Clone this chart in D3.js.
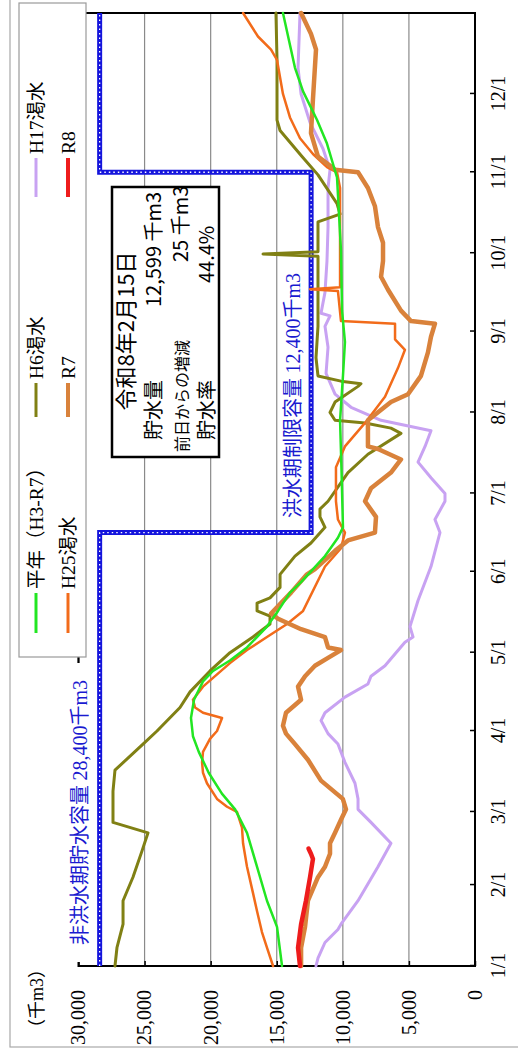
<!DOCTYPE html>
<html><head><meta charset="utf-8">
<script src="https://cdn.jsdelivr.net/npm/d3@7"></script>
<style>html,body{margin:0;padding:0;background:#fff;} svg{display:block}</style>
</head><body>
<svg id="c" width="518" height="1057"></svg>
<script>
// ---- tick data ----
const monthStarts = [0,31,59,90,120,151,181,212,243,273,304,334];
const monthLabels = ["1/1","2/1","3/1","4/1","5/1","6/1","7/1","8/1","9/1","10/1","11/1","12/1"];
const valueTicks = [0,5000,10000,15000,20000,25000,30000];

// ---- flood control capacity line ----
const floodDays = [0,166,166,304,304,365];
const floodVals = [28400,28400,12400,12400,28400,28400];

// ---- series (day of year, storage in 千m3) ----
const heinenDays = [0,15,25,38,51,60,66,74,82,88,95,102,109,113,117,122,130,136,143,147,157,164,168,190,209,226,239,251,274,302,315,324,335,344,365];
const heinenVals = [14600,14980,15740,16490,17250,18150,19150,20150,20900,21340,21490,21260,20580,19820,18540,17250,15740,14900,14000,13160,11350,10370,9990,10100,10210,9990,9840,10060,10140,10440,11200,11950,13010,13620,14530];

const h6Days = [0,7,16,25,34,44,51,55,67,75,85,90,99,105,113,120,126,131,134,136,139,141,145,150,157,162,168,172,175,178,189,196,204,206,208,209,212,216,222,223,224,226,233,245,258,271.8,272.7,273.6,285,288,292,303,310,320,324,347,365];
const h6Vals = [27240,27090,26630,26630,25880,25200,24740,27390,27390,27240,25120,24060,22320,21560,20050,18540,16800,15510,15510,16490,16490,15510,14750,14750,13620,12410,11350,11730,11730,11120,9610,8100,5600,6360,8320,10590,10970,10590,8850,8630,10140,11880,12030,11880,11880,11880,16040,11880,11880,10210,10440,11880,13090,14750,14980,14980,15060];

const h17Days = [0,3,9,14,16,25,38,47,55,60,64,70,78,85,89,94,97,103,108,111,115,124,126,130,140,153,166,171,178,181,187,193,199,205,209,214,219,227,237,245,249,250,258,270,283,298,305,313,323,334,344,365];
const h17Vals = [12030,11880,11350,10370,10140,8850,7340,6360,7870,8850,8850,9080,9840,10370,11120,11650,11350,9840,8100,7870,6810,5300,4690,4920,4310,3330,2650,3030,2270,2270,3330,4310,3780,3330,7110,9380,10590,11270,11120,11350,10970,11650,11350,11200,11120,11120,10970,11500,12480,13160,13390,13240];

const h25Days = [0,7,13,21,28,38,47,53,59,61,64,70,74,78,82,87,90,95,97,99,102,107,116,121,126,131,136,153,160,166,171,178,191,199,208,218,229,236,240,246,247,258.5,259.2,260,298,304,306,311,317,325,334,347,351,356,365];
const h25Vals = [15280,15740,16120,16490,16800,17250,17550,17630,18010,18760,19520,20280,20580,20650,20580,20050,19520,19140,20580,21180,21340,20580,18540,17250,15740,14220,13010,11350,10140,9840,10370,10520,10520,9840,8320,6810,5830,5300,6050,6050,10140,10370,12480,10210,10210,10440,11200,12260,13240,14000,14530,14980,15430,16420,17550];

const r7Days = [0,7,15,25,34,38,43,47,51,56,60,64,71,79,85,89,92,97,102,107,111,115,118,121,122,126,129,133,135,143,150,152,159,163,166,172,178,183,189,194,198,199,209,216,219,226,235,241,246,247,251,259,264,270,277,283,291,298,304,305,310,319,332,351,357,365];
const r7Vals = [13160,13160,12860,12640,11880,11350,10970,10970,10590,10140,9760,10000,11650,12640,13620,14300,14530,14300,13160,13390,12860,12110,11120,10140,11120,11350,13160,14900,15430,13920,12710,12110,10590,9610,7570,7490,8320,7870,6360,5600,7340,8100,8100,6360,5070,4090,3560,3330,3030,4840,5600,6580,7110,6960,6960,7340,7570,8100,8850,10590,11880,12410,12260,12030,12410,13160];

const r8Days = [0,7,16,25,34,41,43,45];
const r8Vals = [13240,13390,13160,12790,12480,12260,12410,12599];

// ---- info box ----
const infoDate = "令和8年2月15日";
const infoLabels = ["貯水量","前日からの増減","貯水率"];
const infoValues = ["12,599 千m3","25 千m3","44.4%"];

const seriesNames = ["平年（H3-R7）","H25渇水","H6渇水","R7","H17渇水","R8"];
const seriesColors = ["#22e622","#f26b1a","#808014","#d9823b","#c8a2f2","#ee1c1c"];
const seriesWidths = [2.5,2.5,3,4.5,3,4.5];
const seriesData = [[heinenDays,heinenVals],[h25Days,h25Vals],[h6Days,h6Vals],[r7Days,r7Vals],[h17Days,h17Vals],[r8Days,r8Vals]];

const W = 1057, H = 518;
const SERIF = "'Liberation Serif','Times New Roman','Noto Sans CJK JP',serif";
const SANS = "'Noto Sans CJK JP','Noto Sans',sans-serif";
const svg = d3.select("#c");
svg.append("rect").attr("width",518).attr("height",1057).attr("fill","#fff");
const g = svg.append("g").attr("transform", `translate(0,${W}) rotate(-90)`);

// outer frame
g.append("rect").attr("x",10).attr("y",10).attr("width",1100).attr("height",600)
  .attr("fill","none").attr("stroke","#a8a8a8").attr("stroke-width",1.2);

const x = d3.scaleLinear().domain([0,365]).range([91,1044]);
const y = d3.scaleLinear().domain([0,30000]).range([475,78.5]);

// gridlines
g.append("g").selectAll("line").data(valueTicks.filter(v=>v>0&&v<30000)).join("line")
  .attr("x1",x(0)).attr("x2",x(365)).attr("y1",d=>y(d)).attr("y2",d=>y(d))
  .attr("stroke","#8a8a8a").attr("stroke-width",1.2);

// axes
const xAxis = g.append("g").attr("transform",`translate(0,${y(0)})`)
  .call(d3.axisBottom(x).tickValues(monthStarts).tickFormat((d,i)=>monthLabels[i]).tickSize(-5).tickPadding(16));
xAxis.select(".domain").remove();
xAxis.selectAll("line").attr("stroke","#000").attr("stroke-width",1.5);
xAxis.selectAll("text").attr("font-family",SERIF).attr("font-size",20).attr("fill","#000");

const yAxis = g.append("g").attr("transform",`translate(${x(0)},0)`)
  .call(d3.axisLeft(y).tickValues(valueTicks).tickFormat(d3.format(",")).tickSize(-5).tickPadding(24));
yAxis.select(".domain").remove();
yAxis.selectAll("line").attr("stroke","#000").attr("stroke-width",1.5);
yAxis.selectAll("text").attr("font-family",SERIF).attr("font-size",20).attr("fill","#000");

// plot frame
g.append("rect").attr("x",x(0)).attr("y",y(30000)).attr("width",x(365)-x(0)).attr("height",y(0)-y(30000))
  .attr("fill","none").attr("stroke","#000").attr("stroke-width",2);

// unit label
g.append("text").attr("x",20).attr("y",43).attr("font-family",SERIF).attr("font-size",18).text("（千m3）");

// flood control line
const line = d3.line().x((d)=>x(d[0])).y(d=>y(d[1]));
const floodPts = floodDays.map((d,i)=>[d,floodVals[i]]);
g.append("path").attr("d",line(floodPts)).attr("fill","none").attr("stroke","#1414dc").attr("stroke-width",5);
g.append("path").attr("d",line(floodPts)).attr("fill","none").attr("stroke","#fff").attr("stroke-width",1.3)
  .attr("stroke-dasharray","1.5,3");

// series
const drawOrder = [4,2,1,3,0,5];
drawOrder.forEach(i=>{
  const [ds,vs] = seriesData[i];
  g.append("path").attr("d",line(ds.map((d,k)=>[d,vs[k]])))
    .attr("fill","none").attr("stroke",seriesColors[i]).attr("stroke-width",seriesWidths[i])
    .attr("stroke-linejoin","round").attr("stroke-linecap","round");
});

// non-flood label (with white background covering frame)
g.append("rect").attr("x",95).attr("y",66).attr("width",299).attr("height",26).attr("fill","#fff");
const t1 = g.append("text").attr("x",112).attr("y",87).attr("fill","#1a1ad0").attr("font-size",20);
t1.append("tspan").attr("font-family",SANS).text("非洪水期貯水容量 ");
t1.append("tspan").attr("font-family",SERIF).text("28,400千m3");
g.append("line").attr("x1",394).attr("x2",400).attr("y1",y(30000)).attr("y2",y(30000)).attr("stroke","#000").attr("stroke-width",1.5);

const t2 = g.append("text").attr("x",539).attr("y",300).attr("fill","#1a1ad0").attr("font-size",20);
t2.append("tspan").attr("font-family",SANS).text("洪水期制限容量 ");
t2.append("tspan").attr("font-family",SERIF).text("12,400千m3");

// info box
g.append("rect").attr("x",600).attr("y",112).attr("width",270).attr("height",107)
  .attr("fill","#fff").attr("stroke","#000").attr("stroke-width",2.5);
g.append("text").attr("x",726).attr("y",134).attr("text-anchor","middle").attr("font-family",SANS).attr("font-size",22).text(infoDate);
const labX = [617,605,617], labY = [161,188,214], labF = [20,16,20];
const valX = [750,795,774];
infoLabels.forEach((t,i)=>{
  g.append("text").attr("x",labX[i]).attr("y",labY[i]).attr("font-family",SANS).attr("font-size",labF[i]).text(t);
  g.append("text").attr("x",valX[i]).attr("y",labY[i]).attr("font-family",SANS).attr("font-size",20).text(infoValues[i]);
});

// legend
g.append("rect").attr("x",400).attr("y",19).attr("width",654).attr("height",67)
  .attr("fill","#fff").attr("stroke","#9a9a9a").attr("stroke-width",1.2);
const legX = [424,424,640,640,860,860], legY = [36,68,36,68,36,68], legLen=[40,40,34,34,39,39];
seriesNames.forEach((n,i)=>{
  g.append("line").attr("x1",legX[i]).attr("x2",legX[i]+legLen[i]).attr("y1",legY[i]).attr("y2",legY[i])
    .attr("stroke",seriesColors[i]).attr("stroke-width",seriesWidths[i]>4?4:3);
  g.append("text").attr("x",legX[i]+legLen[i]+4).attr("y",legY[i]).attr("dy","0.35em")
    .attr("font-family",SERIF).attr("font-size",19.5).text(n);
});
</script>
</body></html>
